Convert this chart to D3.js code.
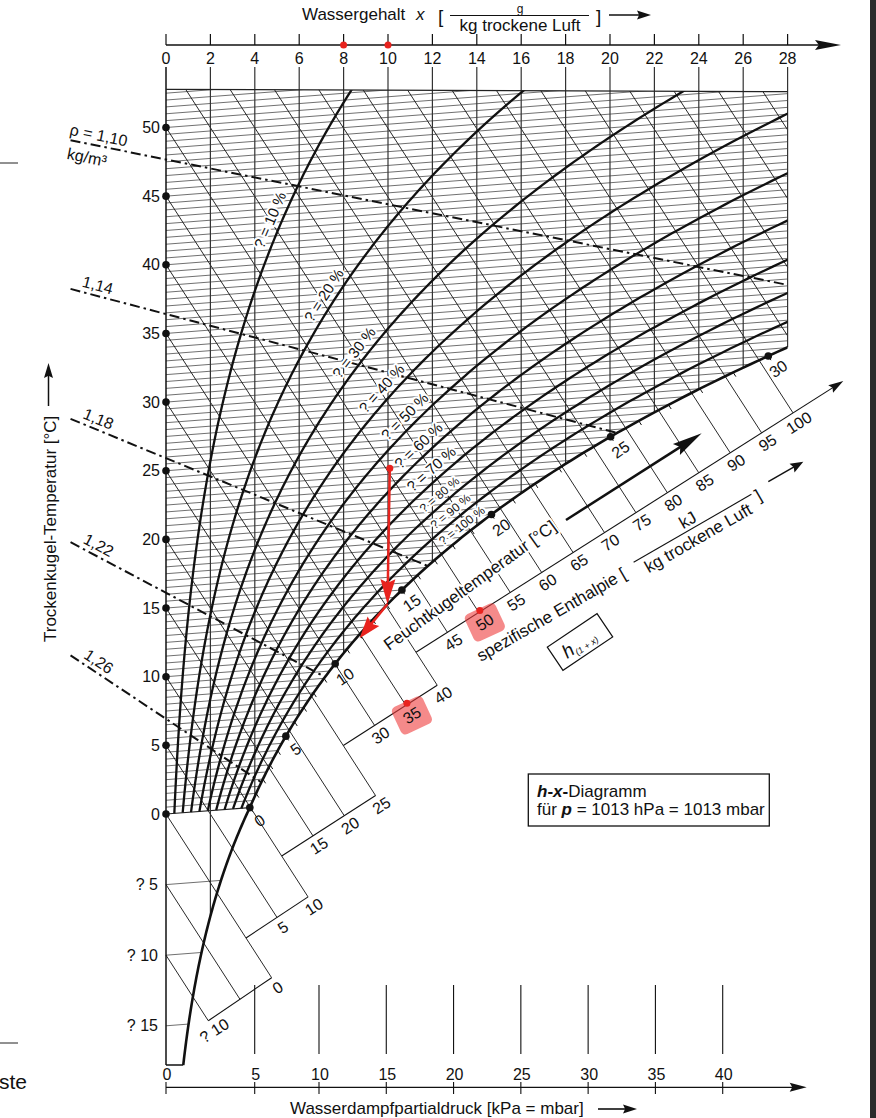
<!DOCTYPE html>
<html><head><meta charset="utf-8">
<script src="https://cdn.jsdelivr.net/npm/d3@7/dist/d3.min.js"></script>
<style>
html,body{margin:0;padding:0;background:#fff;}
svg{display:block;}
text{font-family:"Liberation Sans",Arial,Helvetica,sans-serif;fill:#111;}
</style></head><body>
<svg id="chart" width="876" height="1118"></svg>
<script>
// ---------------- DATA ----------------
const pressureHPa = 1013;
const xTicks = [0,2,4,6,8,10,12,14,16,18,20,22,24,26,28];
const markedX = [8,10];
const tempTicks = [-15,-10,-5,0,5,10,15,20,25,30,35,40,45,50];
const tempTickLabels = ["? 15","? 10","? 5","0","5","10","15","20","25","30","35","40","45","50"];
const rhLevels = [10,20,30,40,50,60,70,80,90];
const rhLabelLevels = [10,20,30,40,50,60,70,80,90,100];
const rhLabelTexts = ["? = 10 %","? = 20 %","? = 30 %","? = 40 %","? = 50 %","? = 60 %","? = 70 %","? = 80 %","? = 90 %","? = 100 %"];
const wetBulbLabels = [0,5,10,15,20,25,30];
const enthalpyValues = [-10,-5,0,5,10,15,20,25,30,35,40,45,50,55,60,65,70,75,80,85,90,95,100,105,110,115,120];
const enthalpyLabelValues = [-10,0,5,10,15,20,25,30,35,40,45,50,55,60,65,70,75,80,85,90,95,100];
const enthalpyLabelTexts = ["? 10","0","5","10","15","20","25","30","35","40","45","50","55","60","65","70","75","80","85","90","95","100"];
const highlightedEnthalpy = [35,50];
const densityValues = [1.10,1.14,1.18,1.22,1.26];
const densityLabelTexts = ["ρ = 1,10","1,14","1,18","1,22","1,26"];
const densityGradients = [-0.45,-0.55,-0.79,-0.98,-1.2];   // °C per g/kg
const pressureTicks = [0,5,10,15,20,25,30,35,40];

// ---------------- LAYOUT ----------------
const L = {x0:166, x28:787.6, topL:89.3, topR:91.7, gridTop:67, bottomY:1065, topAxisY:45, botAxisY:1087.3};
const xS = d3.scaleLinear().domain([0,28]).range([L.x0, L.x28]);
const tS = d3.scaleLinear().domain([-15,0,50]).range([1025.8,814,127.5]);
const pS = d3.scaleLinear().domain([0,5,10,40]).range([166,254.7,319,722.7]);
const TILT = 1.7, HS = 1.55;
const rhLabelAt = [42.3,36.4,32,29.2,27,24.8,23,21.2,19.9,18.8];
const segs = [
  {h0:-10,h1:0,x0:208.3,m:-0.68},
  {h0:0,h1:10,x0:246,m:-0.662},
  {h0:10,h1:25,x0:281.7,m:-0.644},
  {h0:25,h1:40,x0:343.3,m:-0.643},
  {h0:40,h1:100,x0:416,m:-0.635,tip:843.3}
];

// ---------------- PHYSICS / GEOMETRY ----------------
function ps(t){ return t>=0 ? 6.112*Math.exp(17.62*t/(243.12+t)) : 6.112*Math.exp(22.46*t/(272.62+t)); }
function xAt(t,phi){ const pv=phi*ps(t); return 622*pv/(pressureHPa-pv); }
function tSatOfX(x){ const pv=pressureHPa*x/(622+x); const l=Math.log(pv/6.112); return pv>=6.112 ? 243.12*l/(17.62-l) : 272.62*l/(22.46-l); }
function py(t,x){ return tS(t)-TILT*x; }
function topY(X){ return L.topL+(X-L.x0)*(L.topR-L.topL)/(L.x28-L.x0); }
function hY(h,X){ return tS(h)+HS*(X-L.x0); }
function bisect(f,a,b){ let fa=f(a); for(let i=0;i<60;i++){ const m=(a+b)/2, fm=f(m); if((fm>0)===(fa>0)){a=m;fa=fm;} else b=m; } return (a+b)/2; }

segs.forEach(s=>{
  s.y0=hY(s.h0,s.x0);
  s.cross=h=>{ const X=(s.y0 - s.m*s.x0 - tS(h) + HS*L.x0)/(HS - s.m); return [X, s.y0+s.m*(X-s.x0)]; };
  s.end=s.cross(s.h1);
});

const svg = d3.select("#chart");
const defs = svg.append("defs");
defs.append("clipPath").attr("id","cp").append("path")
  .attr("d",`M${L.x0},${L.topL}L${L.x28},${L.topR}L${L.x28},1118L${L.x0},1118Z`);

function arrowHead(g,x1,y1,x2,y2,len,hw,color){
  const dx=x2-x1, dy=y2-y1, d=Math.hypot(dx,dy), ux=dx/d, uy=dy/d;
  const bx=x2-ux*len, by=y2-uy*len;
  g.append("path").attr("d",`M${x2},${y2}L${bx-uy*hw},${by+ux*hw}L${bx+ux*len*0.15},${by+uy*len*0.15}L${bx+uy*hw},${by-ux*hw}Z`).attr("fill",color);
}
function arrow(g,x1,y1,x2,y2,len,hw,color,w){
  const dx=x2-x1, dy=y2-y1, d=Math.hypot(dx,dy);
  g.append("line").attr("x1",x1).attr("y1",y1).attr("x2",x2-dx/d*len*0.7).attr("y2",y2-dy/d*len*0.7)
    .attr("stroke",color).attr("stroke-width",w);
  arrowHead(g,x1,y1,x2,y2,len,hw,color);
}

// dark strip at right edge & stray marks
svg.append("rect").attr("x",870).attr("y",0).attr("width",6).attr("height",1118).attr("fill","#2b2b2b");
svg.append("line").attr("x1",0).attr("x2",18).attr("y1",163).attr("y2",163).attr("stroke","#222").attr("stroke-width",1);
svg.append("line").attr("x1",0).attr("x2",18).attr("y1",1043).attr("y2",1043).attr("stroke","#222").attr("stroke-width",1);
svg.append("text").attr("x",-1).attr("y",1089).attr("font-size",21).text("ste");

// ---------------- GRID ----------------
const grid = svg.append("g");
const clipG = grid.append("g").attr("clip-path","url(#cp)");
// isotherms
const isoT = d3.range(1,107).map(i=>i*0.5).concat([0,-5,-10,-15]);
isoT.forEach(t=>{
  const xe=Math.min(xAt(t,1),28);
  clipG.append("line").attr("x1",xS(0)).attr("y1",py(t,0)).attr("x2",xS(xe)).attr("y2",py(t,xe))
    .attr("stroke","#222").attr("stroke-width",t===0?1.1:0.65);
});
// enthalpy lines
enthalpyValues.forEach(h=>{
  let sx=L.x0, sy=tS(h);
  if(sy<L.topL){ sx=L.x0+(L.topL-tS(h))/(HS-(L.topR-L.topL)/(L.x28-L.x0)); sy=topY(sx); }
  let e;
  if(h>100) e=[L.x28,hY(h,L.x28)];
  else if(h===segs[0].h0) e=[segs[0].x0,segs[0].y0];
  else { const s=segs.find(s=>h>s.h0 && h<=s.h1); e=s.cross(h); }
  grid.append("line").attr("x1",sx).attr("y1",sy).attr("x2",e[0]).attr("y2",e[1])
    .attr("stroke","#111").attr("stroke-width",0.9);
});
// vertical x lines
xTicks.forEach(x=>{
  const yb = x===0 ? L.bottomY : py(tSatOfX(x),x);
  grid.append("line").attr("x1",xS(x)).attr("x2",xS(x)).attr("y1",L.gridTop).attr("y2",yb)
    .attr("stroke",x===0?"#111":"#333").attr("stroke-width",x===0?1.5:1.2);
});
// top border
grid.append("line").attr("x1",L.x0).attr("y1",L.topL).attr("x2",L.x28).attr("y2",L.topR).attr("stroke","#222").attr("stroke-width",1.2);

// enthalpy scale segments
segs.forEach(s=>{
  if(s.tip){
    const ty=s.y0+s.m*(s.tip-s.x0);
    arrow(grid,s.x0,s.y0,s.tip,ty,15,4.5,"#111",1.1);
  } else {
    grid.append("line").attr("x1",s.x0).attr("y1",s.y0).attr("x2",s.end[0]).attr("y2",s.end[1]).attr("stroke","#111").attr("stroke-width",1.1);
  }
});

// ---------------- DENSITY LINES ----------------
const dens = svg.append("g");
densityValues.forEach((rho,i)=>{
  const t0=pressureHPa*100/(287.05*rho)-273.15, g=densityGradients[i];
  const tl=x=>t0+g*x;
  let xe = (tl(28)-tSatOfX(28))>0 ? 28 : bisect(x=>tl(x)-tSatOfX(x),0.05,28);
  const xs0=-4.3;
  const p1=[xS(xs0),py(tl(xs0),xs0)], p2=[xS(xe),py(tl(xe),xe)];
  dens.append("line").attr("x1",p1[0]).attr("y1",p1[1]).attr("x2",p2[0]).attr("y2",p2[1])
    .attr("stroke","#111").attr("stroke-width",2).attr("stroke-dasharray","10,4,2.5,4");
  const ang=Math.atan2(p2[1]-p1[1],p2[0]-p1[0])*180/Math.PI;
  const ax=i===0?68:80, xa=xS.invert(ax), ay=py(tl(xa),xa);
  dens.append("text").attr("transform",`translate(${ax},${ay}) rotate(${ang})`).attr("dy",-5)
    .attr("font-size",16).text(densityLabelTexts[i]);
  if(i===0){
    const bx=70, xb=xS.invert(bx), by=py(tl(xb),xb);
    dens.append("text").attr("transform",`translate(${bx},${by}) rotate(${ang})`).attr("dy",19)
      .attr("font-size",16).text("kg/m³");
  }
});

// ---------------- RH CURVES ----------------
const curves = svg.append("g").attr("clip-path","url(#cp)");
const lineGen = d3.line();
rhLevels.forEach(r=>{
  const pts=d3.range(0,60.01,0.25).map(t=>{const x=xAt(t,r/100); return [xS(x),py(t,x)];});
  curves.append("path").attr("d",lineGen(pts)).attr("fill","none").attr("stroke","#111").attr("stroke-width",2.3);
});
const tBottom = bisect(t=>py(t,xAt(t,1))-L.bottomY,-25,0);
const satPts=[tBottom].concat(d3.range(Math.ceil(tBottom*4)/4,32.01,0.25)).map(t=>{const x=xAt(t,1); return [xS(x),py(t,x)];});
curves.append("path").attr("d",lineGen(satPts)).attr("fill","none").attr("stroke","#111").attr("stroke-width",2.6);
svg.append("line").attr("x1",L.x0).attr("y1",L.bottomY).attr("x2",satPts[0][0]).attr("y2",L.bottomY).attr("stroke","#111").attr("stroke-width",1.5);

// wet-bulb ticks, dots, labels
const wb = svg.append("g");
const un=Math.hypot(1,HS), ux=1/un, uy=HS/un;
d3.range(0,31).forEach(t=>{
  const x=xAt(t,1), X=xS(x), Y=py(t,x);
  wb.append("line").attr("x1",X).attr("y1",Y).attr("x2",X+5*ux).attr("y2",Y+5*uy).attr("stroke","#111").attr("stroke-width",1);
});
wetBulbLabels.forEach(t=>{
  const x=xAt(t,1), X=xS(x), Y=py(t,x);
  wb.append("circle").attr("cx",X).attr("cy",Y).attr("r",3.8).attr("fill","#111");
  wb.append("text").attr("transform",`translate(${X+10},${Y+13}) rotate(-35)`).attr("text-anchor","middle")
    .attr("dominant-baseline","central").attr("font-size",16).text(t);
});

// RH labels with halo
const rl = svg.append("g");
rhLabelLevels.forEach((r,i)=>{
  const t=rhLabelAt[i], phi=r/100;
  const pt=tt=>{const x=xAt(tt,phi); return [xS(x),py(tt,x)];};
  const a=pt(t-0.3), b=pt(t+0.3), c=pt(t);
  const ang=Math.atan2(b[1]-a[1],b[0]-a[0])*180/Math.PI;
  rl.append("text").attr("transform",`translate(${c[0]},${c[1]}) rotate(${ang})`)
    .attr("text-anchor","middle").attr("dominant-baseline","central").attr("y",r>=80?-9:-11.5)
    .attr("font-size",r>=80?12:15).attr("stroke","#fff").attr("stroke-width",4).attr("paint-order","stroke")
    .attr("stroke-linejoin","round").text(rhLabelTexts[i]);
});

// ---------------- ENTHALPY LABELS ----------------
const el = svg.append("g");
enthalpyLabelValues.forEach((v,i)=>{
  let p;
  if(v===segs[0].h0) p=[segs[0].x0,segs[0].y0];
  else { const s=segs.find(s=>v>s.h0 && v<=s.h1); p=s.cross(v); }
  const lx=p[0]+6, ly=p[1]+10;
  if(highlightedEnthalpy.includes(v)){
    el.append("rect").attr("transform",`translate(${lx},${ly}) rotate(-25)`).attr("x",-17).attr("y",-15)
      .attr("width",34).attr("height",30).attr("rx",5).attr("fill","rgba(238,60,60,0.6)");
    el.append("circle").attr("cx",p[0]+1).attr("cy",p[1]-2).attr("r",3.5).attr("fill","#e8231e");
  }
  el.append("text").attr("transform",`translate(${lx},${ly}) rotate(-33)`).attr("text-anchor","middle")
    .attr("dominant-baseline","central").attr("font-size",16).text(enthalpyLabelTexts[i]);
});

// ---------------- LEFT AXIS ----------------
const la = svg.append("g");
tempTicks.forEach((t,i)=>{
  la.append("text").attr("x",t<0?158:160).attr("y",tS(t)).attr("dominant-baseline","central")
    .attr("text-anchor","end").attr("font-size",16).text(tempTickLabels[i]);
  if(t>=0) la.append("circle").attr("cx",L.x0).attr("cy",tS(t)).attr("r",3.8).attr("fill","#111");
});
la.append("text").attr("transform","translate(56,642) rotate(-90)").attr("font-size",17).text("Trockenkugel-Temperatur [°C]");
arrow(la,48.5,406,48.5,363,15,4.5,"#111",1.5);

// ---------------- TOP AXIS ----------------
const ta = svg.append("g");
arrow(ta,L.x0,L.topAxisY,841,L.topAxisY,26,5,"#111",1.5);
xTicks.forEach(x=>{
  ta.append("line").attr("x1",xS(x)).attr("x2",xS(x)).attr("y1",34).attr("y2",L.topAxisY).attr("stroke","#111").attr("stroke-width",1.2);
  ta.append("text").attr("x",xS(x)).attr("y",58.5).attr("text-anchor","middle").attr("dominant-baseline","central").attr("font-size",16).text(x);
});
markedX.forEach(x=>ta.append("circle").attr("cx",xS(x)).attr("cy",L.topAxisY).attr("r",3.5).attr("fill","#e8231e"));
ta.append("text").attr("x",302).attr("y",20).attr("font-size",17).text("Wassergehalt");
ta.append("text").attr("x",416).attr("y",20).attr("font-size",17).attr("font-style","italic").text("x");
ta.append("text").attr("x",438).attr("y",23).attr("font-size",19).text("[");
ta.append("line").attr("x1",450).attr("x2",589).attr("y1",15.5).attr("y2",15.5).attr("stroke","#111").attr("stroke-width",1.2);
ta.append("text").attr("x",520).attr("y",12.5).attr("text-anchor","middle").attr("font-size",12).text("g");
ta.append("text").attr("x",520).attr("y",31).attr("text-anchor","middle").attr("font-size",17).text("kg trockene Luft");
ta.append("text").attr("x",596).attr("y",23).attr("font-size",19).text("]");
arrow(ta,609,15,651,15,14,4.5,"#111",1.6);

// ---------------- BOTTOM AXIS ----------------
const ba = svg.append("g");
arrow(ba,L.x0,L.botAxisY,806.7,L.botAxisY,17,4.5,"#111",1.3);
pressureTicks.forEach(p=>{
  ba.append("line").attr("x1",pS(p)).attr("x2",pS(p)).attr("y1",1082).attr("y2",1094).attr("stroke","#111").attr("stroke-width",1.1);
  if(p>0) ba.append("line").attr("x1",pS(p)).attr("x2",pS(p)).attr("y1",985).attr("y2",1054).attr("stroke","#111").attr("stroke-width",1.1);
  ba.append("text").attr("x",pS(p)+1).attr("y",1074).attr("text-anchor","middle").attr("dominant-baseline","central").attr("font-size",16).text(p);
});
ba.append("text").attr("x",290).attr("y",1113.5).attr("font-size",17).text("Wasserdampfpartialdruck [kPa = mbar]");
arrow(ba,598,1109,637,1109,14,4.5,"#111",1.6);

// ---------------- ANNOTATION TEXTS ----------------
const an = svg.append("g");
an.append("text").attr("transform","translate(389,651) rotate(-35.9)").attr("font-size",17)
  .attr("stroke","#fff").attr("stroke-width",4).attr("paint-order","stroke").attr("stroke-linejoin","round")
  .text("Feuchtkugeltemperatur [°C]");
arrow(an,566,520,701.7,433.3,30,6.5,"#111",2.5);
const sp = an.append("g").attr("transform","translate(481,662) rotate(-30)");
sp.append("text").attr("x",0).attr("y",0).attr("font-size",17).text("spezifische Enthalpie [");
sp.append("line").attr("x1",182).attr("x2",318).attr("y1",-10).attr("y2",-10).attr("stroke","#111").attr("stroke-width",1.1);
sp.append("text").attr("x",250).attr("y",-14).attr("text-anchor","middle").attr("font-size",17).text("kJ");
sp.append("text").attr("x",250).attr("y",7).attr("text-anchor","middle").attr("font-size",17).text("kg trockene Luft");
sp.append("text").attr("x",321).attr("y",0).attr("font-size",17).text("]");
arrow(an,768.3,481.7,803.3,461.7,13,5,"#111",1.5);
const hb = an.append("g").attr("transform","translate(580,642) rotate(-34)");
hb.append("rect").attr("x",-30).attr("y",-14).attr("width",60).attr("height",28).attr("fill","none").attr("stroke","#111").attr("stroke-width",1.2);
const ht = hb.append("text").attr("x",-20).attr("y",7).attr("font-style","italic");
ht.append("tspan").attr("font-size",19).text("h");
ht.append("tspan").attr("font-size",9).attr("dy",3).text("(1 + x)");

// info box
const ib = svg.append("g");
ib.append("rect").attr("x",528.3).attr("y",774).attr("width",241).attr("height",52).attr("fill","none").attr("stroke","#111").attr("stroke-width",1.3);
const t1 = ib.append("text").attr("x",537).attr("y",796.5).attr("font-size",17);
t1.append("tspan").attr("font-weight","bold").attr("font-style","italic").text("h");
t1.append("tspan").attr("font-weight","bold").text("-");
t1.append("tspan").attr("font-weight","bold").attr("font-style","italic").text("x");
t1.append("tspan").attr("font-weight","bold").text("-");
t1.append("tspan").text("Diagramm");
const t2 = ib.append("text").attr("x",537).attr("y",814.5).attr("font-size",17);
t2.append("tspan").text("für ");
t2.append("tspan").attr("font-weight","bold").attr("font-style","italic").text("p");
t2.append("tspan").text(" = 1013 hPa = 1013 mbar");

// red process arrow
const red = svg.append("g");
const RC="#e8231e";
red.append("circle").attr("cx",389.8).attr("cy",468.3).attr("r",3.5).attr("fill",RC);
arrow(red,389.8,468.3,387.5,604,25,7.5,RC,2.5);
arrow(red,387.5,604,359.6,638.3,22,7.5,RC,2.5);
</script>
</body></html>
